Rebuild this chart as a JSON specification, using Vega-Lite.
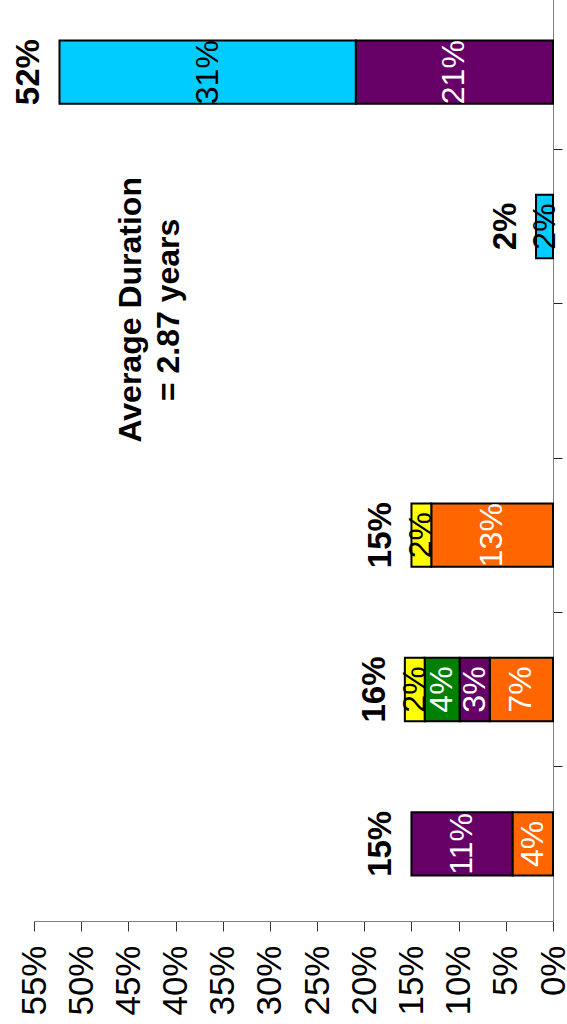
{
  "$schema": "https://vega.github.io/schema/vega-lite/v6.json",
  "width": 519,
  "height": 926,
  "autosize": {"type": "none"},
  "padding": {"left": 34, "right": 14, "top": -5, "bottom": 103},
  "background": "white",
  "config": {
    "view": {"stroke": null},
    "font": "Liberation Sans",
    "axisX": {
      "format": ".0%",
      "labelAngle": -90,
      "labelFontSize": 35,
      "labelColor": "black",
      "tickSize": 10,
      "tickColor": "#333333",
      "domainColor": "#808080",
      "labelPadding": 14,
      "grid": false,
      "labelFlush": false,
      "labelOverlap": false,
      "labelBound": false
    }
  },
  "data": {
    "values": [
      {"period": "1", "series": "Series 1", "share": 0.043},
      {"period": "1", "series": "Series 2", "share": 0.107},
      {"period": "2", "series": "Series 1", "share": 0.067},
      {"period": "2", "series": "Series 2", "share": 0.032},
      {"period": "2", "series": "Series 3", "share": 0.037},
      {"period": "2", "series": "Series 4", "share": 0.021},
      {"period": "3", "series": "Series 1", "share": 0.129},
      {"period": "3", "series": "Series 4", "share": 0.021},
      {"period": "5", "series": "Series 5", "share": 0.018},
      {"period": "6", "series": "Series 2", "share": 0.209},
      {"period": "6", "series": "Series 5", "share": 0.314}
    ]
  },
  "encoding": {
    "y": {
      "field": "period",
      "type": "nominal",
      "title": null,
      "scale": {"domain": ["6", "5", "4", "3", "2", "1"], "paddingInner": 0, "paddingOuter": 0},
      "axis": {
        "orient": "right",
        "labels": false,
        "title": null,
        "bandPosition": 0,
        "tickExtra": true,
        "tickSize": 9,
        "tickColor": "#222222",
        "domainColor": "#808080",
        "grid": false
      }
    }
  },
  "layer": [
    {
      "mark": {"type": "bar", "height": {"band": 0.41}, "stroke": "black", "strokeWidth": 2},
      "encoding": {
        "x": {
          "field": "share",
          "type": "quantitative",
          "stack": "zero",
          "title": null,
          "scale": {"domain": [0, 0.55], "reverse": true, "nice": false, "zero": true},
          "axis": {"values": [0, 0.05, 0.1, 0.15, 0.2, 0.25, 0.3, 0.35, 0.4, 0.45, 0.5, 0.55], "title": null}
        },
        "order": {"field": "series", "type": "nominal", "sort": "ascending"},
        "color": {
          "field": "series",
          "type": "nominal",
          "scale": {
            "domain": ["Series 1", "Series 2", "Series 3", "Series 4", "Series 5"],
            "range": ["#FF6600", "#660066", "#008000", "#FFFF00", "#00CCFF"]
          },
          "legend": null
        }
      }
    },
    {
      "mark": {"type": "text", "angle": -90, "fontSize": 32, "align": "center", "baseline": "middle"},
      "encoding": {
        "x": {"field": "share", "type": "quantitative", "stack": "zero", "bandPosition": 0.5, "title": null},
        "detail": {"field": "series", "type": "nominal"},
        "order": {"field": "series", "type": "nominal", "sort": "ascending"},
        "text": {"field": "share", "type": "quantitative", "format": ".0%"},
        "color": {
          "condition": {"test": "datum.series === 'Series 4' || datum.series === 'Series 5'", "value": "black"},
          "value": "white"
        }
      }
    },
    {
      "transform": [
        {"aggregate": [{"op": "sum", "field": "share", "as": "total"}], "groupby": ["period"]}
      ],
      "mark": {"type": "text", "angle": -90, "fontSize": 33, "fontWeight": "bold", "align": "center", "baseline": "middle", "dy": -30, "color": "black"},
      "encoding": {
        "x": {"field": "total", "type": "quantitative", "title": null},
        "text": {"field": "total", "type": "quantitative", "format": ".0%"}
      }
    },
    {
      "data": {"values": [{"note": "average"}]},
      "mark": {
        "type": "text",
        "angle": -90,
        "fontSize": 32,
        "fontWeight": "bold",
        "align": "center",
        "baseline": "middle",
        "lineHeight": 38,
        "dx": 71,
        "color": "black",
        "text": ["Average Duration", "= 2.87 years"]
      },
      "encoding": {
        "x": {"datum": 0.447, "type": "quantitative", "title": null},
        "y": {"datum": "4", "type": "nominal"}
      }
    }
  ]
}
